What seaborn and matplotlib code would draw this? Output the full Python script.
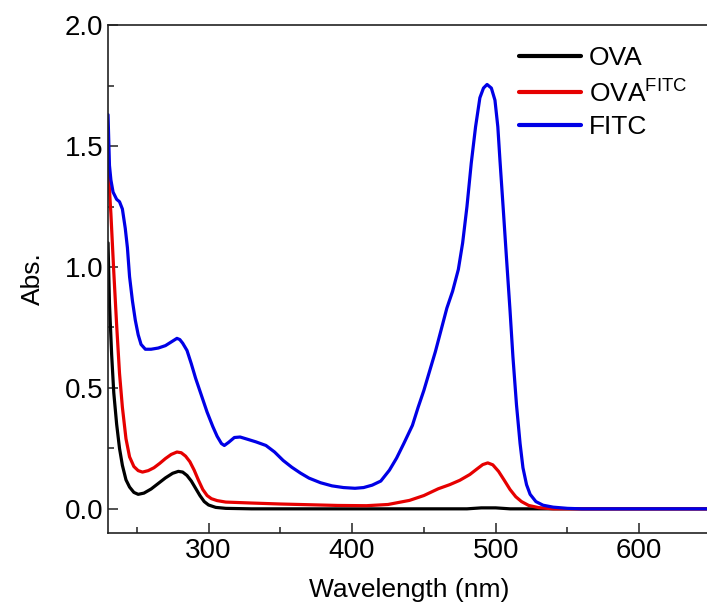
import pandas as pd
import numpy as np
import seaborn as sns
import matplotlib.pyplot as plt
from matplotlib.ticker import MultipleLocator

# UV-vis spectra
ova_nm = [230, 231, 232.5, 234, 236, 238, 240, 242.5, 245, 248, 251, 255, 260, 265,
          270, 275, 279, 282, 285, 288, 291, 294, 297, 300, 305, 312, 330, 480,
          490, 500, 510, 650]
ova_abs = [1.10, 0.85, 0.64, 0.48, 0.35, 0.25, 0.18, 0.12, 0.09, 0.068, 0.06, 0.065,
           0.082, 0.105, 0.128, 0.147, 0.155, 0.152, 0.138, 0.115, 0.085, 0.055, 0.03,
           0.016, 0.006, 0.002, 0.0, 0.0, 0.004, 0.004, 0.0, 0.0]

ovafitc_nm = [230, 232, 234, 236, 238, 240, 242.5, 245, 248, 251, 254, 258, 262, 266,
              270, 274, 278, 281, 284, 287, 290, 293, 296, 299, 302, 306, 312, 330,
              350, 370, 390, 410, 425, 440, 450, 460, 468, 475, 482, 487, 491, 494.5,
              498, 502, 506, 510, 514, 518, 523, 530, 540, 650]
ovafitc_abs = [1.42, 1.22, 0.98, 0.76, 0.56, 0.42, 0.29, 0.215, 0.175, 0.158, 0.152,
               0.158, 0.17, 0.188, 0.208, 0.225, 0.235, 0.232, 0.218, 0.195, 0.16,
               0.118, 0.08, 0.055, 0.042, 0.034, 0.028, 0.024, 0.02, 0.017, 0.014,
               0.013, 0.018, 0.035, 0.055, 0.083, 0.10, 0.118, 0.142, 0.165, 0.183,
               0.19, 0.182, 0.155, 0.118, 0.08, 0.05, 0.03, 0.014, 0.005, 0.0, 0.0]

fitc_nm = [230, 231, 232, 233.5, 236, 238, 240, 242, 243.5, 245, 247, 249, 251, 253,
           256, 260, 265, 270, 274, 278, 280, 282, 285, 288, 291, 295, 299, 303, 306,
           309, 311, 314, 318, 322, 327, 333, 340, 346, 352, 358, 364, 370, 378, 386,
           394, 402, 408, 414, 420, 426, 431, 436, 442, 446, 450, 454, 458, 462, 466,
           470, 474, 477, 480, 483, 486, 489, 491.5, 494, 497, 499.5, 501.5, 503,
           505.5, 507.5, 510, 512, 514.5, 517, 519, 521.5, 524, 528, 533, 540, 550,
           560, 600, 650]
fitc_abs = [1.63, 1.42, 1.36, 1.31, 1.28, 1.27, 1.24, 1.16, 1.08, 0.96, 0.86, 0.78,
            0.72, 0.68, 0.66, 0.66, 0.665, 0.675, 0.69, 0.705, 0.70, 0.685, 0.655, 0.60,
            0.54, 0.47, 0.40, 0.34, 0.30, 0.27, 0.262, 0.275, 0.295, 0.297, 0.288,
            0.277, 0.262, 0.235, 0.20, 0.172, 0.148, 0.127, 0.108, 0.095, 0.088, 0.085,
            0.088, 0.098, 0.115, 0.16, 0.21, 0.27, 0.345, 0.42, 0.49, 0.57, 0.65, 0.74,
            0.83, 0.90, 0.99, 1.10, 1.25, 1.43, 1.58, 1.70, 1.74, 1.755, 1.74, 1.69,
            1.58, 1.44, 1.22, 1.04, 0.82, 0.63, 0.43, 0.27, 0.17, 0.10, 0.06, 0.03,
            0.015, 0.007, 0.002, 0.0, 0.0, 0.0]

labels = ['OVA', r'OVA$^{\mathregular{FITC}}$', 'FITC']
colors = ['#000000', '#e60000', '#0000e6']

df = pd.concat([
    pd.DataFrame({'nm': ova_nm, 'abs': ova_abs, 'sample': labels[0]}),
    pd.DataFrame({'nm': ovafitc_nm, 'abs': ovafitc_abs, 'sample': labels[1]}),
    pd.DataFrame({'nm': fitc_nm, 'abs': fitc_abs, 'sample': labels[2]}),
])

sns.set_theme(style="ticks")
plt.rcParams['font.family'] = ['Liberation Sans', 'DejaVu Sans']
plt.rcParams['mathtext.fontset'] = 'custom'
plt.rcParams['mathtext.rm'] = 'Liberation Sans'
plt.rcParams['text.color'] = 'black'
plt.rcParams['axes.labelcolor'] = 'black'

fig, ax = plt.subplots(figsize=(7.07, 6.15), dpi=100)
ax.set_position([0.1528, 0.1333, 0.8529, 0.8257])

sns.lineplot(data=df, x='nm', y='abs', hue='sample', palette=colors,
             estimator=None, sort=False, linewidth=2.3, ax=ax)

ax.set_xlim(230, 650)
ax.set_ylim(-0.1, 2.0)
ax.xaxis.set_major_locator(MultipleLocator(100))
ax.xaxis.set_minor_locator(MultipleLocator(50))
ax.yaxis.set_major_locator(MultipleLocator(0.5))
ax.yaxis.set_minor_locator(MultipleLocator(0.25))
ax.tick_params(which='both', direction='in', width=1.1, labelsize=20,
               colors='#222222', labelcolor='black', top=False, right=False)
ax.tick_params(which='major', length=7)
ax.tick_params(which='minor', length=4)
for sp in ax.spines.values():
    sp.set_linewidth(1.2)
    sp.set_color('#222222')

ax.set_xlabel('Wavelength (nm)', fontsize=19, labelpad=10)
ax.set_ylabel('Abs.', fontsize=19, labelpad=14)

leg = ax.legend(loc='upper left', bbox_to_anchor=(0.66, 0.985), frameon=False,
                fontsize=19, handlelength=2.35, handletextpad=0.3,
                labelspacing=0.33, borderpad=0)
for line in leg.get_lines():
    line.set_linewidth(3)

fig.savefig('out.png', dpi=100)
